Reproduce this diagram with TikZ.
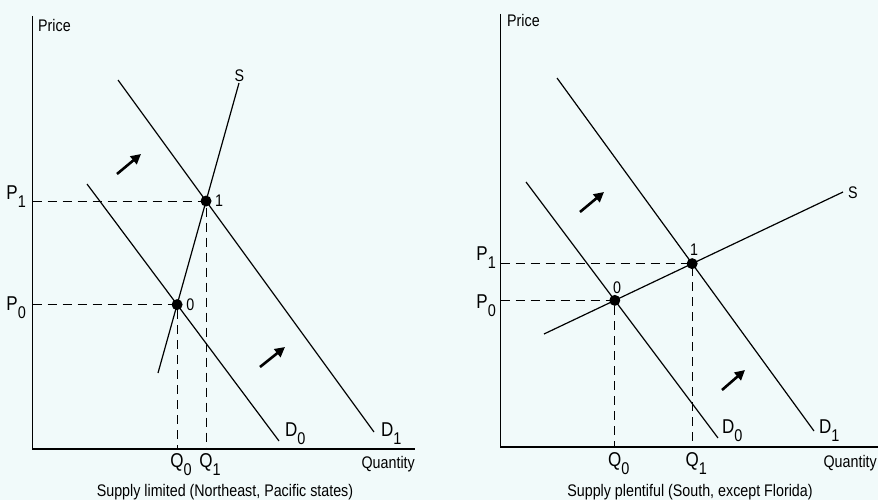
\documentclass[tikz,border=0pt]{standalone}
\usepackage{fontspec}
\setmainfont{Liberation Sans}[FakeStretch=0.85]
\usetikzlibrary{arrows.meta,intersections}
\definecolor{bg}{RGB}{241,250,250}
\newcommand{\plab}[2]{{\fontsize{20}{21}\selectfont #1}\raisebox{-8pt}{\fontsize{17}{19}\selectfont #2}}
\newcommand{\qlab}[2]{{\fontsize{20}{21}\selectfont #1}\rlap{\raisebox{-8pt}{\fontsize{17}{19}\selectfont #2}}}
\begin{document}
\begin{tikzpicture}[x=1pt,y=-1pt,
  curve/.style={line width=1.2pt},
  axis/.style={line width=1.5pt},
  guide/.style={line width=1pt, dash pattern=on 9pt off 6pt},
  shiftarrow/.style={line width=2.6pt, -{Triangle[length=10pt,width=10pt]}},
  dot/.style={circle, fill=black, inner sep=0pt, minimum size=11pt},
  txt/.style={inner sep=0pt, font=\fontsize{16.8}{19}\selectfont},
  lab/.style={inner sep=0pt}]
\fill[bg] (0,0) rectangle (878,500);
\useasboundingbox (0,0) rectangle (878,500);
\clip (0,0) rectangle (878,500);

% ---------------- Left graph ----------------
\coordinate (LyT) at (32.5,16);
\coordinate (Lo) at (32.5,449);
\coordinate (LxR) at (415,449);
\draw[axis] (LyT) -- (Lo) -- (LxR);

\coordinate (LSa) at (158,373); \coordinate (LSb) at (239,83);
\coordinate (LD0a) at (87,184); \coordinate (LD0b) at (279,441);
\coordinate (LD1a) at (118,80); \coordinate (LD1b) at (374,432);
\path[name path=LS] (LSa) -- (LSb);
\path[name path=LD0] (LD0a) -- (LD0b);
\path[name path=LD1] (LD1a) -- (LD1b);
\path[name intersections={of=LS and LD0, by=LE0}];
\path[name intersections={of=LS and LD1, by=LE1}];

\draw[guide] (Lo |- LE1) -- (LE1) -- (LE1 |- Lo);
\draw[guide] (Lo |- LE0) -- (LE0) -- (LE0 |- Lo);

\draw[curve] (LSa) -- (LSb);
\draw[curve] (LD0a) -- (LD0b);
\draw[curve] (LD1a) -- (LD1b);

\node[dot] (LP0) at (LE0) {};
\node[dot] (LP1) at (LE1) {};
\node[txt, anchor=west] (L0lab) at ([xshift=9pt]LE0) {0};
\node[txt, anchor=west] (L1lab) at ([xshift=9pt]LE1) {1};

\node[txt, anchor=base west] (Lprice) at (38,31.5) {Price};
\node[txt] (LSlab) at (239.5,75.5) {S};
\node[lab, anchor=base east] (LP1lab) at (26,199) {\plab{P}{1}};
\node[lab, anchor=base east] (LP0lab) at (26,310) {\plab{P}{0}};
\path (LE0 |- Lo) coordinate (LQ0);
\path (LE1 |- Lo) coordinate (LQ1);
\node[lab, anchor=base] (LQ0lab) at ([yshift=-18pt]LQ0) {\qlab{Q}{0}};
\node[lab, anchor=base] (LQ1lab) at ([yshift=-18pt]LQ1) {\qlab{Q}{1}};
\node[lab, anchor=base west] (LD0lab) at (285,436) {\plab{D}{0}};
\node[lab, anchor=base west] (LD1lab) at (381,436) {\plab{D}{1}};
\node[txt, anchor=base east] (Lqty) at (415,468) {Quantity};
\node[txt, anchor=base] (Lcap) at (225,496) {Supply limited (Northeast, Pacific states)};

\coordinate (LA1s) at (117,174); \coordinate (LA1e) at (141,154);
\coordinate (LA2s) at (260,367); \coordinate (LA2e) at (285,347);
\draw[shiftarrow] (LA1s) -- (LA1e);
\draw[shiftarrow] (LA2s) -- (LA2e);

% ---------------- Right graph ----------------
\coordinate (RyT) at (500.7,14);
\coordinate (Ro) at (500.7,447);
\coordinate (RxR) at (885,447);
\draw[axis] (RyT) -- (Ro) -- (RxR);

\coordinate (RSa) at (544,334); \coordinate (RSb) at (843,192);
\coordinate (RD0a) at (526,182); \coordinate (RD0b) at (718,438);
\coordinate (RD1a) at (557,78); \coordinate (RD1b) at (814,431);
\path[name path=RS] (RSa) -- (RSb);
\path[name path=RD0] (RD0a) -- (RD0b);
\path[name path=RD1] (RD1a) -- (RD1b);
\path[name intersections={of=RS and RD0, by=RE0}];
\path[name intersections={of=RS and RD1, by=RE1}];

\draw[guide] (Ro |- RE1) -- (RE1) -- (RE1 |- Ro);
\draw[guide] (Ro |- RE0) -- (RE0) -- (RE0 |- Ro);

\draw[curve] (RSa) -- (RSb);
\draw[curve] (RD0a) -- (RD0b);
\draw[curve] (RD1a) -- (RD1b);

\node[dot] (RP0) at (RE0) {};
\node[dot] (RP1) at (RE1) {};
\node[txt] (R0lab) at (617,288) {0};
\node[txt] (R1lab) at (694,250) {1};

\node[txt, anchor=base west] (Rprice) at (507,27) {Price};
\node[txt] (RSlab) at (853,192.5) {S};
\node[lab, anchor=base east] (RP1lab) at (496,260) {\plab{P}{1}};
\node[lab, anchor=base east] (RP0lab) at (496,308) {\plab{P}{0}};
\path (RE0 |- Ro) coordinate (RQ0);
\path (RE1 |- Ro) coordinate (RQ1);
\node[lab, anchor=base] (RQ0lab) at ([yshift=-19pt]RQ0) {\qlab{Q}{0}};
\node[lab, anchor=base] (RQ1lab) at ([yshift=-19pt]RQ1) {\qlab{Q}{1}};
\node[lab, anchor=base west] (RD0lab) at (722,433) {\plab{D}{0}};
\node[lab, anchor=base west] (RD1lab) at (819,433) {\plab{D}{1}};
\node[txt, anchor=base east] (Rqty) at (877,467) {Quantity};
\node[txt, anchor=base] (Rcap) at (690,496) {Supply plentiful (South, except Florida)};

\coordinate (RA1s) at (580,212); \coordinate (RA1e) at (604,192);
\coordinate (RA2s) at (722,390); \coordinate (RA2e) at (745,370);
\draw[shiftarrow] (RA1s) -- (RA1e);
\draw[shiftarrow] (RA2s) -- (RA2e);
\end{tikzpicture}
\end{document}
